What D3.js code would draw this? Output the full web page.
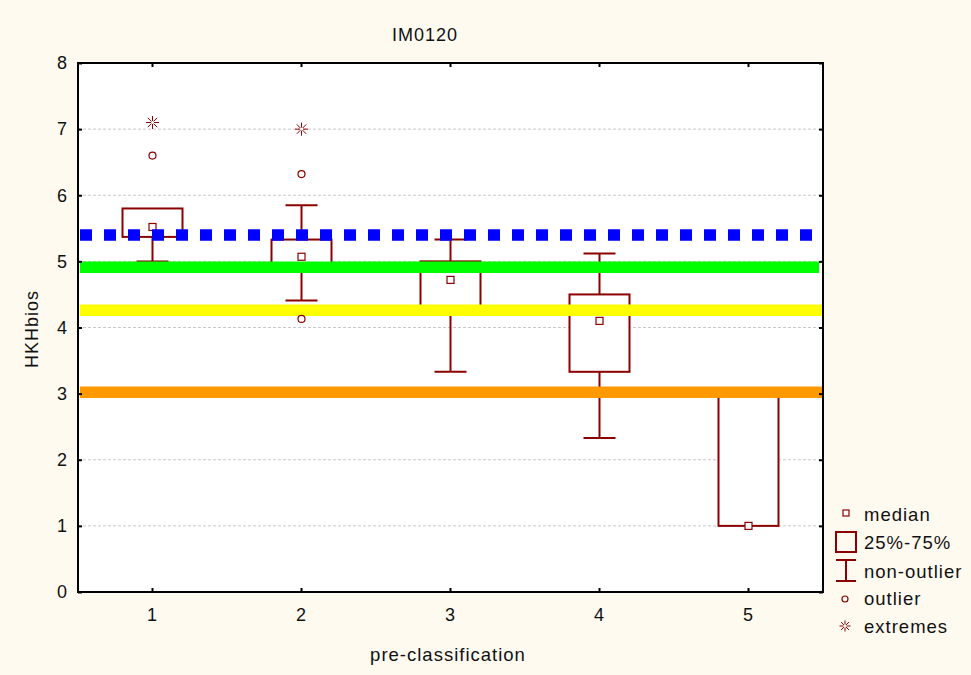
<!DOCTYPE html>
<html>
<head>
<meta charset="utf-8">
<script src="https://cdn.jsdelivr.net/npm/d3@7"></script>
<style>
  html, body { margin: 0; padding: 0; background: #fffaf0; }
  svg { display: block; }
  text { font-family: "Liberation Sans", Arial, sans-serif; fill: #111; letter-spacing: 1px; }
</style>
</head>
<body>
<svg id="chart" width="971" height="675"></svg>
<script>
// ---- data ----
const categories = ["1", "2", "3", "4", "5"];
const medians    = [5.52, 5.07, 4.72, 4.10, 1.00];
const q1s        = [5.37, 4.97, 4.30, 3.33, 1.00];
const q3s        = [5.80, 5.33, 5.00, 4.50, 3.00];
const whiskerLo  = [5.00, 4.41, 3.33, 2.33, 1.00];
const whiskerHi  = [5.80, 5.85, 5.33, 5.12, 3.00];
const outliers   = [[6.60], [6.32, 4.13], [], [], []];
const extremes   = [[7.10], [7.00], [], [], []];
const yTicks     = [0, 1, 2, 3, 4, 5, 6, 7, 8];
const refValues  = [5.40, 4.91, 4.26, 3.02];
const refColors  = ["#0000ff", "#00ff00", "#ffff00", "#ff9900"];
const refDotted  = [true, false, false, false];
const legendLabels = ["median", "25%-75%", "non-outlier", "outlier", "extremes"];
const titleText  = "IM0120";
const xLabel     = "pre-classification";
const yLabel     = "HKHbios";

// ---- layout ----
const W = 971, H = 675;
const plot = { left: 78, right: 823, top: 63, bottom: 592 };
const boxColor = "#8b0000";

const svg = d3.select("#chart");
svg.append("rect").attr("width", W).attr("height", H).attr("fill", "#fffaf0");
svg.append("rect").attr("x", plot.left).attr("y", plot.top)
  .attr("width", plot.right - plot.left).attr("height", plot.bottom - plot.top)
  .attr("fill", "#ffffff");

const x = d3.scaleBand().domain(categories).range([plot.left, plot.right]).padding(0);
const cx = c => x(c) + x.bandwidth() / 2;
const y = d3.scaleLinear().domain([0, 8]).range([plot.bottom, plot.top]);

// gridlines
svg.append("g").selectAll("line").data(yTicks.filter(t => t > 0 && t < 8)).join("line")
  .attr("x1", plot.left).attr("x2", plot.right)
  .attr("y1", d => y(d)).attr("y2", d => y(d))
  .attr("stroke", "#c8c8c8").attr("stroke-width", 1).attr("stroke-dasharray", "3,2");

// boxes
const boxes = categories.map((c, i) => ({
  c, med: medians[i], q1: q1s[i], q3: q3s[i], lo: whiskerLo[i], hi: whiskerHi[i],
  out: outliers[i], ext: extremes[i]
}));
const boxHalf = 30, capHalf = 16;
const gB = svg.append("g");
boxes.forEach(b => {
  const xc = cx(b.c);
  if (b.hi > b.q3) {
    gB.append("line").attr("x1", xc).attr("x2", xc).attr("y1", y(b.q3)).attr("y2", y(b.hi))
      .attr("stroke", boxColor).attr("stroke-width", 2);
    gB.append("line").attr("x1", xc - capHalf).attr("x2", xc + capHalf)
      .attr("y1", y(b.hi)).attr("y2", y(b.hi)).attr("stroke", boxColor).attr("stroke-width", 2);
  }
  if (b.lo < b.q1) {
    gB.append("line").attr("x1", xc).attr("x2", xc).attr("y1", y(b.q1)).attr("y2", y(b.lo))
      .attr("stroke", boxColor).attr("stroke-width", 2);
    gB.append("line").attr("x1", xc - capHalf).attr("x2", xc + capHalf)
      .attr("y1", y(b.lo)).attr("y2", y(b.lo)).attr("stroke", boxColor).attr("stroke-width", 2);
  }
  gB.append("rect").attr("x", xc - boxHalf).attr("y", y(b.q3))
    .attr("width", boxHalf * 2).attr("height", y(b.q1) - y(b.q3))
    .attr("fill", "#ffffff").attr("stroke", boxColor).attr("stroke-width", 2);
  gB.append("rect").attr("x", xc - 3.5).attr("y", y(b.med) - 3.5).attr("width", 7).attr("height", 7)
    .attr("fill", "#ffffff").attr("stroke", boxColor).attr("stroke-width", 1.2);
});

// reference lines (drawn over boxes)
const gR = svg.append("g");
refValues.forEach((v, i) => {
  gR.append("line")
    .attr("x1", plot.left + 2).attr("x2", i === 1 ? plot.right - 4 : plot.right + 1)
    .attr("y1", y(v)).attr("y2", y(v))
    .attr("stroke", refColors[i]).attr("stroke-width", 11.5)
    .attr("stroke-dasharray", refDotted[i] ? "12,12" : null);
});

// outliers & extremes
const gO = svg.append("g");
function star(g, px, py, r) {
  const gs = g.append("g").attr("transform", `translate(${px},${py})`)
    .attr("stroke", boxColor).attr("stroke-width", 1);
  const d = r * 0.72, in0 = 1.5;
  [[0, -1], [0, 1], [-1, 0], [1, 0], [-0.72, -0.72], [0.72, 0.72], [-0.72, 0.72], [0.72, -0.72]]
    .forEach(v => gs.append("line")
      .attr("x1", v[0] * in0).attr("y1", v[1] * in0)
      .attr("x2", v[0] * r).attr("y2", v[1] * r));
}
boxes.forEach(b => {
  const xc = cx(b.c);
  b.out.forEach(v => gO.append("circle").attr("cx", xc).attr("cy", y(v)).attr("r", 3.5)
    .attr("fill", "none").attr("stroke", boxColor).attr("stroke-width", 1.2));
  b.ext.forEach(v => star(gO, xc, y(v), 6.5));
});

// axes (frame + inward ticks)
const fontSize = "18px";
const axL = svg.append("g").attr("transform", `translate(${plot.left},0)`)
  .call(d3.axisLeft(y).tickValues(yTicks).tickFormat(d3.format("d")).tickSize(-4).tickPadding(10));
const axR = svg.append("g").attr("transform", `translate(${plot.right},0)`)
  .call(d3.axisRight(y).tickValues(yTicks).tickFormat("").tickSize(-4));
const axB = svg.append("g").attr("transform", `translate(0,${plot.bottom})`)
  .call(d3.axisBottom(x).tickSize(-4).tickPadding(16));
const axT = svg.append("g").attr("transform", `translate(0,${plot.top})`)
  .call(d3.axisTop(x).tickFormat("").tickSize(-4));
[axL, axR, axB, axT].forEach(a => {
  a.select(".domain").remove();
  a.selectAll(".tick line").attr("stroke", "#000").attr("stroke-width", 2);
  a.selectAll("text").attr("font-size", fontSize).attr("fill", "#111")
    .attr("font-family", "'Liberation Sans', Arial, sans-serif");
});
svg.append("rect").attr("x", plot.left).attr("y", plot.top)
  .attr("width", plot.right - plot.left).attr("height", plot.bottom - plot.top)
  .attr("fill", "none").attr("stroke", "#000").attr("stroke-width", 2);

// titles
svg.append("text").attr("x", 425).attr("y", 41).attr("text-anchor", "middle")
  .attr("font-size", "18px").text(titleText);
svg.append("text").attr("x", 448).attr("y", 661).attr("text-anchor", "middle")
  .attr("font-size", "18.5px").text(xLabel);
svg.append("text").attr("transform", "translate(38,329) rotate(-90)").attr("text-anchor", "middle")
  .attr("font-size", fontSize).text(yLabel);

// legend
const lg = svg.append("g");
const lx = 846;
const rowY = [513, 542, 570, 599, 626];
const baseY = [521, 549, 578, 605, 633];
lg.append("rect").attr("x", lx - 3).attr("y", rowY[0] - 3).attr("width", 6).attr("height", 6)
  .attr("fill", "#fff").attr("stroke", boxColor).attr("stroke-width", 1.2);
lg.append("rect").attr("x", lx - 10).attr("y", 532).attr("width", 20).attr("height", 20)
  .attr("fill", "none").attr("stroke", boxColor).attr("stroke-width", 2);
lg.append("line").attr("x1", lx).attr("x2", lx).attr("y1", 560).attr("y2", 581).attr("stroke", boxColor).attr("stroke-width", 2);
lg.append("line").attr("x1", lx - 10).attr("x2", lx + 10).attr("y1", 560).attr("y2", 560).attr("stroke", boxColor).attr("stroke-width", 2);
lg.append("line").attr("x1", lx - 10).attr("x2", lx + 10).attr("y1", 581).attr("y2", 581).attr("stroke", boxColor).attr("stroke-width", 2);
lg.append("circle").attr("cx", lx - 1).attr("cy", rowY[3]).attr("r", 3)
  .attr("fill", "none").attr("stroke", boxColor).attr("stroke-width", 1.2);
star(lg, lx - 1, rowY[4], 5.5);
legendLabels.forEach((t, i) => {
  lg.append("text").attr("x", 864).attr("y", baseY[i]).attr("font-size", "18.5px").text(t);
});
</script>
</body>
</html>
